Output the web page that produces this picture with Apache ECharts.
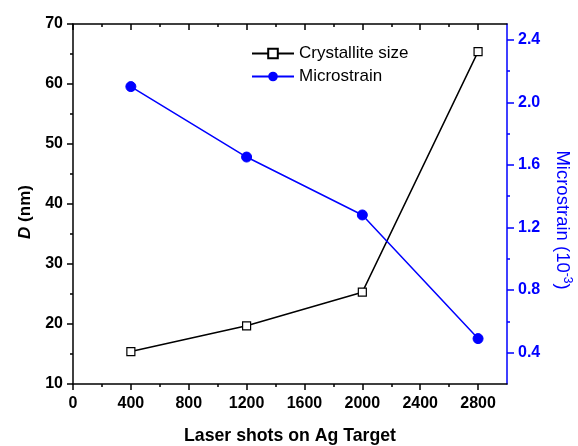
<!DOCTYPE html>
<html>
<head>
<meta charset="utf-8">
<script src="https://cdn.jsdelivr.net/npm/echarts@6/dist/echarts.min.js"></script>
<style>html,body{margin:0;padding:0;background:#fff}#c{width:578px;height:446px}</style>
</head>
<body>
<div id="c"></div>
<script>
// Data
var laserShots = [400, 1200, 2000, 2800];
var crystalliteSize = [15.4, 19.7, 25.3, 65.4];
var microstrain = [2.10, 1.65, 1.28, 0.49];
// Tick labels
var xTicks = [0, 400, 800, 1200, 1600, 2000, 2400, 2800];
var xMinorTicks = [200, 600, 1000, 1400, 1800, 2200, 2600];
var rightTicks = [0.4, 0.8, 1.2, 1.6, 2.0, 2.4];
var rightMinorTicks = [0.6, 1.0, 1.4, 1.8, 2.2];

var FONT = '"Liberation Sans", Arial, sans-serif';
var BLUE = '#0000ff';
var chart = echarts.init(document.getElementById('c'), null, {renderer: 'canvas'});

function pairs(xs, ys) { return xs.map(function (x, i) { return [x, ys[i]]; }); }

var labelStyle = {fontFamily: FONT, fontWeight: 'bold', fontSize: 16, color: '#000',
  formatter: function (v) { return String(v); }};

chart.setOption({
  animation: false,
  backgroundColor: '#fff',
  grid: {left: 73, right: 71, top: 24, bottom: 62, containLabel: false, outerBoundsMode: 'none'},
  legend: {
    orient: 'vertical', left: 246, top: 40,
    itemWidth: 42, itemHeight: 12, itemGap: 6,
    textStyle: {fontFamily: FONT, fontSize: 17, color: '#000'},
    data: ['Crystallite size', 'Microstrain']
  },
  xAxis: [
    {
      type: 'value', position: 'bottom', min: 0, max: 3000,
      axisLine: {show: true, onZero: false, lineStyle: {color: '#000', width: 1.5}},
      axisTick: {show: true, inside: false, length: 6, customValues: xTicks, lineStyle: {color: '#000', width: 1.5}},
      axisLabel: Object.assign({margin: 12, customValues: xTicks}, labelStyle),
      splitLine: {show: false},
      name: 'Laser shots on Ag Target', nameLocation: 'middle', nameGap: 43,
      nameTextStyle: {fontFamily: FONT, fontWeight: 'bold', fontSize: 17.7, color: '#000'}
    },
    {
      type: 'value', position: 'bottom', min: 0, max: 3000,
      axisLine: {show: false, onZero: false},
      axisTick: {show: true, inside: false, length: 3, customValues: xMinorTicks, lineStyle: {color: '#000', width: 1.5}},
      axisLabel: {show: false}, splitLine: {show: false}
    },
    {
      type: 'value', position: 'top', min: 0, max: 3000,
      axisLine: {show: true, onZero: false, lineStyle: {color: '#000', width: 1.5}},
      axisTick: {show: true, inside: true, length: 6, customValues: xTicks, lineStyle: {color: '#000', width: 1.5}},
      axisLabel: {show: false}, splitLine: {show: false}
    },
    {
      type: 'value', position: 'top', min: 0, max: 3000,
      axisLine: {show: false, onZero: false},
      axisTick: {show: true, inside: true, length: 3, customValues: xMinorTicks, lineStyle: {color: '#000', width: 1.5}},
      axisLabel: {show: false}, splitLine: {show: false}
    }
  ],
  yAxis: [
    {
      type: 'value', position: 'left', min: 10, max: 70, interval: 10,
      axisLine: {show: true, onZero: false, lineStyle: {color: '#000', width: 1.5}},
      axisTick: {show: true, inside: false, length: 6, lineStyle: {color: '#000', width: 1.5}},
      minorTick: {show: true, splitNumber: 2, length: 3, lineStyle: {color: '#000', width: 1.5}},
      axisLabel: Object.assign({margin: 10}, labelStyle),
      splitLine: {show: false},
      name: '{i|D} (nm)', nameLocation: 'middle', nameGap: 34, nameRotate: 90,
      nameTextStyle: {fontFamily: FONT, fontWeight: 'bold', fontSize: 17, color: '#000', padding: [0, 16, 0, 0],
        rich: {i: {fontFamily: FONT, fontWeight: 'bold', fontStyle: 'italic', fontSize: 17, color: '#000'}}}
    },
    {
      type: 'value', position: 'right', min: 0.2, max: 2.5,
      axisLine: {show: true, onZero: false, lineStyle: {color: BLUE, width: 1.5}},
      axisTick: {show: true, inside: false, length: 7, customValues: rightTicks, lineStyle: {color: BLUE, width: 1.5}},
      axisLabel: {margin: 11, customValues: rightTicks, fontFamily: FONT, fontWeight: 'bold', fontSize: 16, color: BLUE,
        formatter: function (v) { return v.toFixed(1); }},
      splitLine: {show: false},
      name: 'Microstrain (10{s|-3})', nameLocation: 'middle', nameGap: 45, nameRotate: -90,
      nameTextStyle: {fontFamily: FONT, fontSize: 18.5, color: BLUE, padding: [0, 0, 0, 32],
        rich: {s: {fontFamily: FONT, fontSize: 12, color: BLUE, verticalAlign: 'top', padding: [0, 0, 9, 0]}}}
    },
    {
      type: 'value', position: 'right', min: 0.2, max: 2.5,
      axisLine: {show: false, onZero: false},
      axisTick: {show: true, inside: false, length: 3, customValues: rightMinorTicks, lineStyle: {color: BLUE, width: 1.5}},
      axisLabel: {show: false}, splitLine: {show: false}
    }
  ],
  series: [
    {
      name: 'Crystallite size', type: 'line', xAxisIndex: 0, yAxisIndex: 0,
      data: pairs(laserShots, crystalliteSize),
      symbol: 'rect', symbolSize: 8,
      itemStyle: {color: '#fff', borderColor: '#000', borderWidth: 1.2},
      lineStyle: {color: '#000', width: 1.5}
    },
    {
      name: 'Microstrain', type: 'line', xAxisIndex: 0, yAxisIndex: 1,
      data: pairs(laserShots, microstrain),
      symbol: 'circle', symbolSize: 10,
      itemStyle: {color: BLUE, borderColor: BLUE},
      lineStyle: {color: BLUE, width: 1.5}
    }
  ]
});
</script>
</body>
</html>
